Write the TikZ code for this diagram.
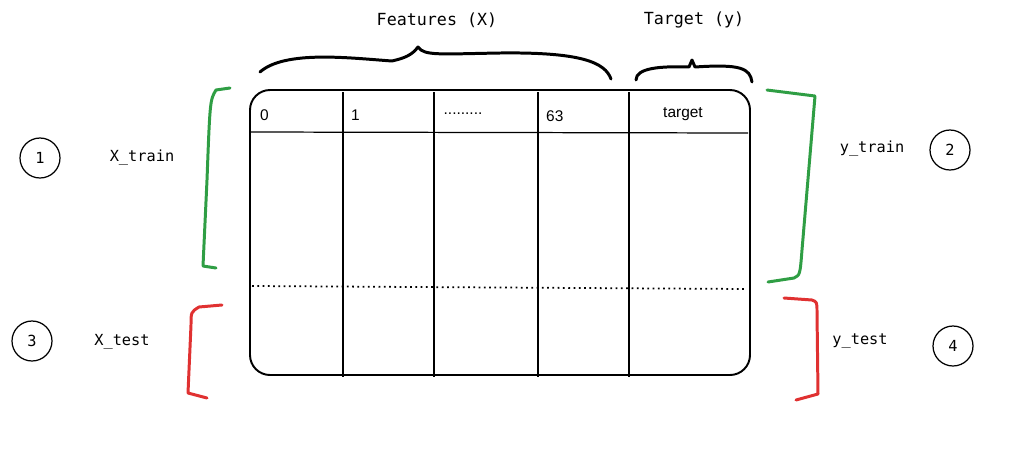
\documentclass[tikz,border=0pt]{standalone}
\usepackage{fontspec}
\setmainfont{Liberation Sans}
\newfontfamily\labelfont{DejaVu Sans Mono}
\usetikzlibrary{positioning}
\definecolor{okgreen}{RGB}{47,158,68}
\definecolor{badred}{RGB}{224,49,49}

\begin{document}
\begin{tikzpicture}[x=0.02cm, y=-0.02cm, every node/.style={font=\fontsize{8.8}{10}\selectfont},
    lbl/.style={font=\labelfont\fontsize{8.7}{10}\selectfont},
    toplbl/.style={font=\labelfont\fontsize{9.5}{11}\selectfont},
    num/.style={draw, circle, minimum size=0.8cm, inner sep=0pt, line width=0.7pt, font=\labelfont\fontsize{8.7}{10}\selectfont},
    grid/.style={line width=1.1pt},
    curly/.style={line width=1.7pt, line cap=round, line join=round}]
    \useasboundingbox (0,0) rectangle (1024,454);
    % table
    \draw[grid, rounded corners=0.4cm] (250,90) rectangle (750,375);
    \draw[line width=0.7pt] (250,132) -- (748,133);
    \foreach \x in {343,434,538,629}
      \draw[grid] (\x,92) -- (\x,377);
    \draw[line width=1pt, dotted] (252,286) -- (746,289);
    % header cells
    \node[anchor=west] (h0) at (254,115) {0};
    \node[anchor=west] (h1) at (345,115) {1};
    \node (hdots) at (463,114) {.........};
    \node[anchor=west] (h63) at (540,116) {63};
    \node (htarget) at (683,114) {target};
    % braces on top
    \node[toplbl] (feat) at (437,20) {Features (X)};
    \node[toplbl] (targ) at (694,20) {Target (y)};
    \draw[curly] (260,72) .. controls (285,50) and (350,58) .. (392,61)
      .. controls (405,58) and (412,55) .. (418,47)
      .. controls (424,56) and (440,54) .. (500,53)
      .. controls (580,52) and (605,62) .. (611,79);
    \draw[curly] (636,80) .. controls (636,68) and (660,66) .. (689,67)
      -- (692,60) -- (695,67)
      .. controls (740,64) and (750,68) .. (752,82);
    % split brackets
    \draw[curly, okgreen] (230,88) -- (216,90) .. controls (210,100) .. (207,180) -- (203,266) -- (216,268);
    \draw[curly, badred] (222,305) -- (199,307) .. controls (191,312) .. (191,325) -- (188,393) -- (207,398);
    \draw[curly, okgreen] (767,90) -- (815,96) -- (802,250) .. controls (800,275) .. (794,278) -- (768,282);
    \draw[curly, badred] (784,298) -- (812,300) .. controls (817,302) .. (817,312) -- (818,394) -- (796,400);
    % labels
    \node[lbl] (xtrain) at (142,157) {X\_train};
    \node[lbl] (ytrain) at (872,148) {y\_train};
    \node[lbl] (xtest) at (122,342) {X\_test};
    \node[lbl] (ytest) at (860,341) {y\_test};
    \node[num] (c1) at (40,158) {1};
    \node[num] (c2) at (950,150) {2};
    \node[num] (c3) at (32,341) {3};
    \node[num] (c4) at (953,346) {4};
  \end{tikzpicture}
\end{document}
